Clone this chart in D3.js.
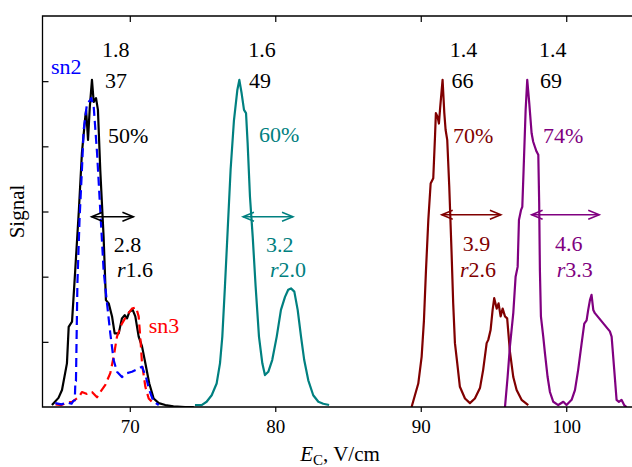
<!DOCTYPE html>
<html><head><meta charset="utf-8">
<script src="https://cdn.jsdelivr.net/npm/d3@7"></script>
<style>body{margin:0;background:#fff}svg{display:block}</style>
</head><body><div id="chart"></div>
<script>
// ---- data ----
const xTicks = [70, 80, 90, 100];
const yTicks = [1, 2, 3, 4, 5];

const blackX = [64.65,65.1,65.34,65.68,65.8,66.03,66.25,66.5,66.71,66.94,67.0,67.13,67.25,67.4,67.52,67.68,67.81,67.97,68.2,68.36,68.55,68.78,68.96,69.24,69.46,69.65,69.81,69.97,70.2,70.38,70.61,70.84,71.07,71.34,71.64,71.99,72.44,73.0,73.8,74.4];
const blackY = [0.03,0.14,0.26,0.67,1.23,1.31,2.1,3.02,3.9,4.45,4.55,4.1,4.6,5.02,4.68,4.74,4.56,3.64,2.61,1.64,1.59,1.39,1.13,1.13,1.36,1.41,1.36,1.46,1.49,1.39,1.08,0.93,0.67,0.36,0.13,0.06,0.03,0.01,0.0,0.0];

const sn2X = [64.88,65.3,65.7,66.0,66.14,66.22,66.26,66.3,66.4,66.55,66.71,66.83,67.06,67.29,67.35,67.52,67.75,67.97,68.2,68.43,68.66,68.89,69.12,69.46,69.81,70.15,70.61,70.84,71.11,71.34,71.64,71.99];
const sn2Y = [0.06,0.04,0.07,0.05,0.1,0.1,0.4,0.4,1.9,2.9,3.64,4.25,4.66,4.71,4.74,4.61,3.9,3.02,2.1,1.6,1.13,0.72,0.54,0.46,0.52,0.54,0.59,0.62,0.46,0.26,0.08,0.03];

const sn3X = [64.9,65.3,65.57,66.03,66.49,66.71,67.06,67.4,67.75,67.97,68.32,68.66,68.89,69.12,69.46,69.81,70.15,70.43,70.61,70.72,70.84,71.07,71.3,71.64];
const sn3Y = [0.04,0.03,0.06,0.08,0.15,0.23,0.2,0.23,0.15,0.23,0.34,0.52,0.77,1.08,1.28,1.41,1.51,1.53,1.39,1.08,0.67,0.31,0.13,0.05];

const tealX = [74.48,74.94,75.28,75.63,75.97,76.2,76.36,76.54,76.73,76.93,77.16,77.39,77.53,77.69,77.85,77.99,78.1,78.26,78.45,78.65,78.88,79.11,79.29,79.52,79.79,80.1,80.39,80.67,80.89,81.08,81.31,81.54,81.77,81.99,82.27,82.61,82.96,83.3,83.7];
const tealY = [0.03,0.03,0.08,0.18,0.36,0.67,1.08,1.85,2.72,3.64,4.4,4.86,5.02,4.81,4.56,4.51,4.05,3.23,2.61,1.85,1.08,0.67,0.49,0.54,0.72,1.08,1.49,1.69,1.8,1.82,1.77,1.49,1.08,0.72,0.41,0.18,0.08,0.05,0.03];

const brownX = [89.37,89.6,89.83,90.06,90.22,90.36,90.52,90.68,90.86,90.98,91.04,91.16,91.25,91.34,91.5,91.62,91.71,91.82,91.96,92.12,92.23,92.35,92.51,92.69,93.04,93.38,93.72,94.07,94.29,94.53,94.64,94.8,94.94,95.05,95.22,95.35,95.49,95.63,95.79,95.94,96.13,96.36,96.59,96.93,97.39];
const brownY = [0.0,0.18,0.36,0.77,1.33,2.1,2.87,3.43,3.51,4.15,4.51,4.45,4.35,4.61,5.02,4.51,4.25,4.1,3.38,2.36,1.59,0.98,0.67,0.31,0.13,0.06,0.13,0.29,0.57,0.98,1.03,1.18,1.49,1.67,1.51,1.59,1.39,1.51,1.39,1.36,0.85,0.46,0.26,0.11,0.03];

const purpleX = [95.79,95.97,96.13,96.36,96.52,96.66,96.75,96.89,96.98,97.07,97.21,97.32,97.46,97.62,97.73,97.85,97.96,98.08,98.14,98.19,98.26,98.42,98.54,98.72,98.88,99.11,99.45,99.8,100.02,100.37,100.6,100.82,101.06,101.24,101.4,101.51,101.63,101.74,101.86,101.97,103.0,103.12,103.3,103.46,103.62,103.8,103.98,104.15];
const purpleY = [0.0,0.46,0.93,1.44,2.0,2.15,2.87,3.02,3.07,3.64,4.56,5.02,4.66,4.2,4.07,3.99,3.92,3.87,3.13,2.1,1.39,1.08,0.82,0.46,0.23,0.08,0.03,0.08,0.03,0.11,0.26,0.57,0.98,1.28,1.33,1.49,1.64,1.72,1.49,1.44,1.16,1.08,0.57,0.11,0.08,0.11,0.03,0.0];

// annotations
const annoText  = ["1.8","37","50%","2.8","r1.6","sn2","sn3",
                   "1.6","49","60%","3.2","r2.0",
                   "1.4","66","70%","3.9","r2.6",
                   "1.4","69","74%","4.6","r3.3"];
const annoX     = [68.09,68.3,68.5,68.89,69.12,64.58,71.3,
                   78.14,78.19,78.88,79.36,79.64,
                   92.0,92.12,92.21,92.88,92.69,
                   98.12,98.19,98.4,99.22,99.34];
const annoY     = [5.375,4.895,4.05,2.386,2.0,5.11,1.135,
                   5.375,4.895,4.06,2.383,2.0,
                   5.375,4.895,4.05,2.39,2.0,
                   5.375,4.895,4.05,2.39,2.0];
const annoColor = ["black","black","black","black","black","blue","red",
                   "black","black","teal","teal","teal",
                   "black","black","brown","brown","brown",
                   "black","black","purple","purple","purple"];
const arrowX1 = [67.37, 77.78, 91.44, 97.62];
const arrowX2 = [70.25, 81.22, 95.51, 102.27];
const arrowY  = [2.92, 2.92, 2.95, 2.95];
const arrowColor = ["black","teal","brown","purple"];

const palette = {black:"#000000", blue:"#0000ff", red:"#ff0000", teal:"#008080", brown:"#800000", purple:"#800080"};
const FONT = '"Liberation Serif", "Tinos", "Times New Roman", Times, "DejaVu Serif", serif';

// ---- chart ----
const W = 632, H = 467;
const m = {left:42.5, right:0.3, top:16, bottom:60};
const svg = d3.select("#chart").append("svg").attr("width", W).attr("height", H)
  .attr("font-family", FONT);
const x = d3.scaleLinear().domain([64, 104.5]).range([m.left, W - m.right]);
const y = d3.scaleLinear().domain([0, 6]).range([H - m.bottom, m.top]);

svg.append("defs").append("clipPath").attr("id","clip").append("rect")
  .attr("x", m.left).attr("y", m.top).attr("width", W - m.left - m.right).attr("height", H - m.top - m.bottom);

const line = d3.line().x(d => x(d[0])).y(d => y(d[1]));
const series = [
  {xs: tealX, ys: tealY, c: "teal", dash: null},
  {xs: brownX, ys: brownY, c: "brown", dash: null},
  {xs: purpleX, ys: purpleY, c: "purple", dash: null},
  {xs: blackX, ys: blackY, c: "black", dash: null},
  {xs: sn3X, ys: sn3Y, c: "red", dash: "9,5"},
  {xs: sn2X, ys: sn2Y, c: "blue", dash: "9,5"}
];
const gLines = svg.append("g").attr("clip-path","url(#clip)");
series.forEach(s => {
  gLines.append("path")
    .datum(s.xs.map((v,i) => [v, s.ys[i]]))
    .attr("d", line).attr("fill","none")
    .attr("stroke", palette[s.c]).attr("stroke-width", 2.2)
    .attr("stroke-linejoin","round")
    .attr("stroke-dasharray", s.dash);
});

// axes
const axB = svg.append("g").attr("transform", `translate(0,${y(0)})`)
  .call(d3.axisBottom(x).tickValues(xTicks).tickSize(5).tickPadding(8));
const axT = svg.append("g").attr("transform", `translate(0,${y(6)})`)
  .call(d3.axisTop(x).tickValues(xTicks).tickSize(-6).tickFormat(""));
const axL = svg.append("g").attr("transform", `translate(${x(64)},0)`)
  .call(d3.axisLeft(y).tickValues(yTicks).tickSize(-6).tickFormat(""));
[axB, axT, axL].forEach(g => {
  g.attr("font-family", FONT);
  g.select(".domain").remove();
  g.selectAll("line").attr("stroke","#000").attr("stroke-width",1.2);
});
axB.attr("font-size", 19);
axB.selectAll("text").attr("fill","#000");

svg.append("path")
  .attr("d", `M${W},${y(6)}H${x(64)}V${y(0)}H${W}`)
  .attr("fill","none").attr("stroke","#000").attr("stroke-width",1.3);

// annotations
annoText.forEach((t,i) => {
  const tx = svg.append("text").attr("x", x(annoX[i])).attr("y", y(annoY[i]))
    .attr("font-size", 22).attr("fill", palette[annoColor[i]]);
  if (t[0] === "r") {
    tx.append("tspan").attr("font-style","italic").text("r");
    tx.append("tspan").text(t.slice(1));
  } else tx.text(t);
});

// arrows
arrowX1.forEach((a,i) => {
  const col = palette[arrowColor[i]];
  const x1 = x(a), x2 = x(arrowX2[i]), yy = y(arrowY[i]);
  const g = svg.append("g").attr("stroke", col).attr("fill","none").attr("stroke-width",1.5);
  g.append("line").attr("x1", x1).attr("x2", x2).attr("y1", yy).attr("y2", yy);
  g.append("path").attr("d", `M${x1+11},${yy-4.5}L${x1},${yy}L${x1+11},${yy+4.5}`);
  g.append("path").attr("d", `M${x2-11},${yy-4.5}L${x2},${yy}L${x2-11},${yy+4.5}`);
});

// axis titles
const xt = svg.append("text").attr("x", 340).attr("y", 461).attr("text-anchor","middle")
  .attr("font-size", 21).attr("fill","#000");
xt.append("tspan").attr("font-style","italic").text("E");
xt.append("tspan").attr("font-size", 15).attr("dy", 4).text("C");
xt.append("tspan").attr("dy", -4).text(", V/cm");

svg.append("text").attr("transform", `translate(24,${(y(0)+y(6))/2}) rotate(-90)`)
  .attr("text-anchor","middle").attr("font-size", 21).attr("fill","#000").text("Signal");
</script></body></html>
